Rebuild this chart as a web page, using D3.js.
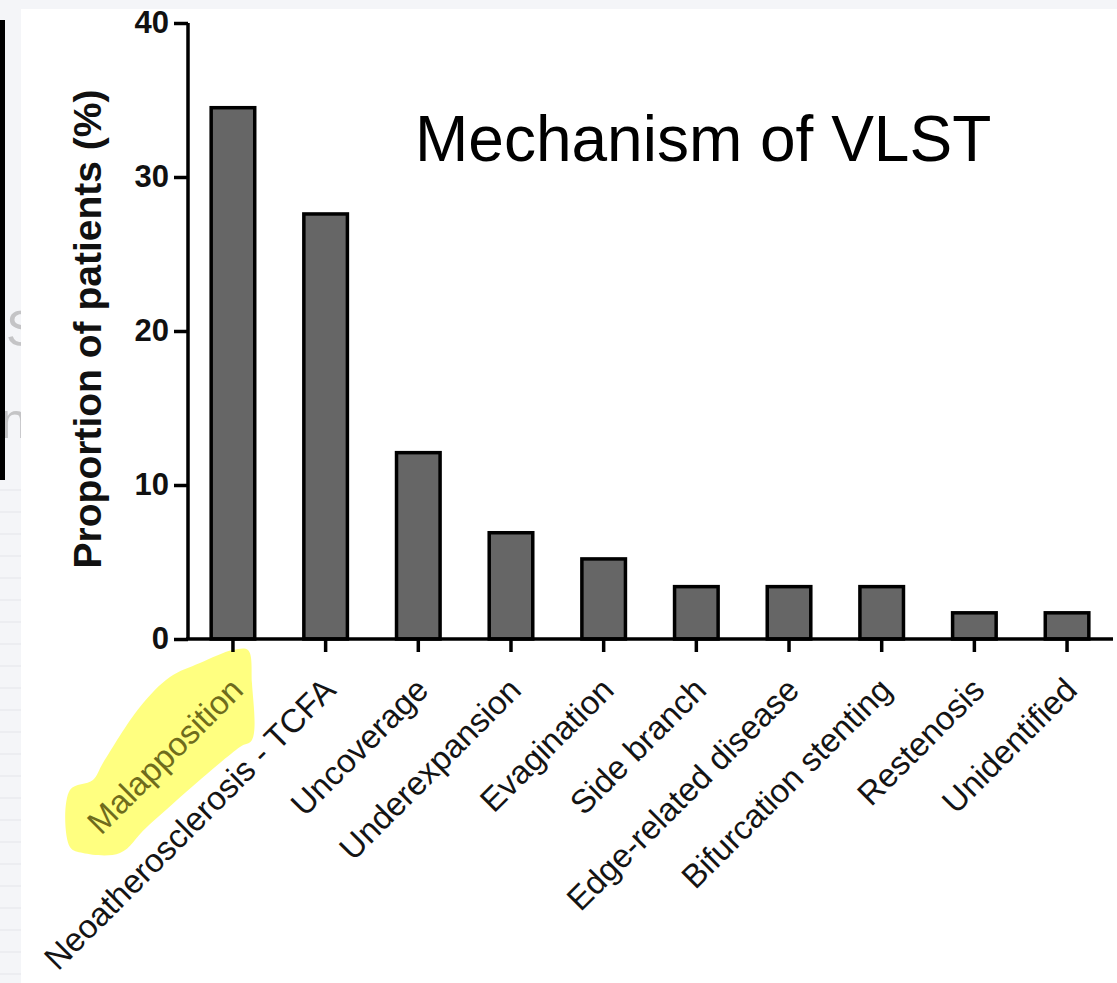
<!DOCTYPE html>
<html>
<head>
<meta charset="utf-8">
<script src="https://cdn.jsdelivr.net/npm/d3@7/dist/d3.min.js"></script>
<style>
  html, body { margin: 0; padding: 0; background: #f4f5f8; }
  svg { display: block; }
  text { font-family: "Liberation Sans", Arial, Helvetica, sans-serif; }
</style>
</head>
<body>
<svg id="chart" width="1117" height="983"></svg>
<script>
// ---- data ----
const categories = ["Malapposition", "Neoatherosclerosis - TCFA", "Uncoverage", "Underexpansion",
  "Evagination", "Side branch", "Edge-related disease", "Bifurcation stenting", "Restenosis", "Unidentified"];
const values = [34.5, 27.6, 12.1, 6.9, 5.2, 3.4, 3.4, 3.4, 1.7, 1.7];
const yTicks = [0, 10, 20, 30, 40];
const titleText = "Mechanism of VLST";
const yLabel = "Proportion of patients (%)";
const highlighted = "Malapposition";

const W = 1117, H = 983;
const svg = d3.select("#chart");

// background remnants of slide
svg.append("rect").attr("width", W).attr("height", H).attr("fill", "#f4f5f8");
const stripes = d3.range(490, 983, 22);
svg.append("g").selectAll("line").data(stripes).join("line")
  .attr("x1", 0).attr("x2", 21).attr("y1", d => d).attr("y2", d => d)
  .attr("stroke", "#ecedf1").attr("stroke-width", 2);
svg.append("text").attr("x", 6).attr("y", 346).attr("font-size", 50).attr("fill", "#c4c4c6").text("S");
svg.append("text").attr("x", 0).attr("y", 438).attr("font-size", 50).attr("fill", "#c4c4c6").text("nt");
svg.append("rect").attr("x", 0).attr("y", 20).attr("width", 5).attr("height", 460).attr("fill", "#000");
// white panel
svg.append("rect").attr("x", 21).attr("y", 9).attr("width", W - 21).attr("height", H - 9).attr("fill", "#fff");

// scales
const y = d3.scaleLinear().domain([0, 40]).range([639, 23]);
const x = d3.scaleBand().domain(categories).range([188, 1112]).paddingInner(0.53).paddingOuter(0.25);

// highlighter blob (behind the label)
const hx = x(highlighted) + x.bandwidth() / 2;
const blob = [[0, 11], [15, 11], [19, 44], [19, 101], [7, 108], [-86, 188], [-113, 214], [-150, 214],
  [-163, 208], [-163, 151], [-140, 141], [-130, 124], [-93, 68], [-63, 38], [-33, 24]];
svg.append("path")
  .attr("d", d3.line().curve(d3.curveCatmullRomClosed.alpha(0.5))(blob.map(p => [hx + p[0], 639 + p[1]])))
  .attr("fill", "#ffff80");

// bars
svg.append("g").selectAll("rect").data(values).join("rect")
  .attr("x", (d, i) => x(categories[i]))
  .attr("width", x.bandwidth())
  .attr("y", d => y(d))
  .attr("height", d => y(0) - y(d))
  .attr("fill", "#666666")
  .attr("stroke", "#000")
  .attr("stroke-width", 3.5);

// y axis
const yAxis = svg.append("g").attr("transform", "translate(188,0)")
  .call(d3.axisLeft(y).tickValues(yTicks).tickSize(14).tickPadding(5));
yAxis.select(".domain").attr("stroke", "#000").attr("stroke-width", 3.5)
  .attr("d", `M0,${y(40)}V${y(0)}`);
yAxis.selectAll(".tick line").attr("stroke", "#000").attr("stroke-width", 3.5);
yAxis.selectAll(".tick text").attr("font-size", 31).attr("font-weight", "bold")
  .attr("fill", "#111").style("font-family", '"Liberation Sans", Arial, sans-serif');

// x axis
const xAxis = svg.append("g").attr("transform", `translate(0,${y(0)})`)
  .call(d3.axisBottom(x).tickSize(13).tickSizeOuter(0));
xAxis.select(".domain").attr("stroke", "#000").attr("stroke-width", 3.5)
  .attr("d", `M186,0H1113`);
xAxis.selectAll(".tick line").attr("stroke", "#000").attr("stroke-width", 3.5);
xAxis.selectAll(".tick text")
  .attr("font-size", 33)
  .attr("fill", d => d === highlighted ? "#6f6c1c" : "#141414")
  .attr("text-anchor", "end")
  .attr("x", 0).attr("y", 0).attr("dy", 0)
  .attr("transform", "translate(12,53) rotate(-45)")
  .style("font-family", '"Liberation Sans", Arial, sans-serif');

// y label
svg.append("text")
  .attr("transform", "translate(101,329) rotate(-90)")
  .attr("text-anchor", "middle")
  .attr("font-size", 39).attr("font-weight", "bold").attr("fill", "#111")
  .text(yLabel);

// title
svg.append("text").attr("x", 415).attr("y", 161)
  .attr("font-size", 64).attr("fill", "#000")
  .text(titleText);
</script>
</body>
</html>
